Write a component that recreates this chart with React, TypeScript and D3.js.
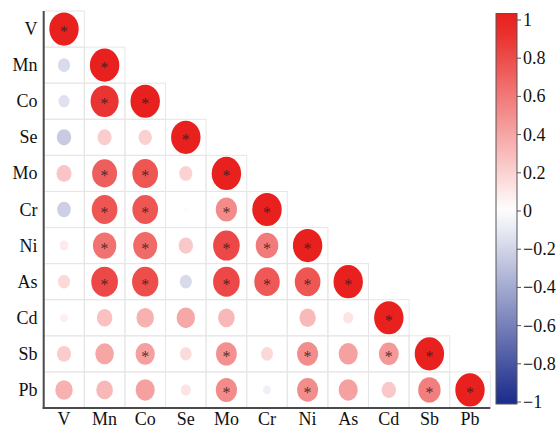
import React from "react";
import * as d3 from "d3";

const vars = ["V", "Mn", "Co", "Se", "Mo", "Cr", "Ni", "As", "Cd", "Sb", "Pb"];

// lower-triangle correlation values (row i, columns 0..i)
const corrV = [1];
const corrMn = [-0.17, 1];
const corrCo = [-0.14, 0.91, 1];
const corrSe = [-0.24, 0.23, 0.21, 1];
const corrMo = [0.26, 0.72, 0.76, 0.2, 1];
const corrCr = [-0.22, 0.76, 0.76, 0.02, 0.52, 1];
const corrNi = [0.09, 0.63, 0.67, 0.24, 0.82, 0.59, 1];
const corrAs = [0.17, 0.82, 0.8, -0.17, 0.82, 0.75, 0.76, 1];
const corrCd = [0.07, 0.28, 0.35, 0.39, 0.32, 0.01, 0.31, 0.12, 1];
const corrSb = [0.23, 0.4, 0.43, 0.16, 0.5, 0.17, 0.51, 0.42, 0.46, 1];
const corrPb = [0.35, 0.32, 0.42, 0.12, 0.52, -0.07, 0.51, 0.42, 0.24, 0.58, 1];
const corr = [corrV, corrMn, corrCo, corrSe, corrMo, corrCr, corrNi, corrAs, corrCd, corrSb, corrPb];

// significance flags (1 = marked with *)
const sigV = [1];
const sigMn = [0, 1];
const sigCo = [0, 1, 1];
const sigSe = [0, 0, 0, 1];
const sigMo = [0, 1, 1, 0, 1];
const sigCr = [0, 1, 1, 0, 1, 1];
const sigNi = [0, 1, 1, 0, 1, 1, 1];
const sigAs = [0, 1, 1, 0, 1, 1, 1, 1];
const sigCd = [0, 0, 0, 0, 0, 0, 0, 0, 1];
const sigSb = [0, 0, 1, 0, 1, 0, 1, 0, 1, 1];
const sigPb = [0, 0, 0, 0, 1, 0, 1, 0, 0, 1, 1];
const sig = [sigV, sigMn, sigCo, sigSe, sigMo, sigCr, sigNi, sigAs, sigCd, sigSb, sigPb];

const legendTicks = [1, 0.8, 0.6, 0.4, 0.2, 0, -0.2, -0.4, -0.6, -0.8, -1];

const FONT = "'Liberation Serif', 'Times New Roman', Times, serif";

export default function App() {
  const x = d3.scaleBand<string>().domain(vars).range([43.7, 490.3]).padding(0);
  const y = d3.scaleBand<string>().domain(vars).range([11, 408]).padding(0);
  const color = d3
    .scaleLinear<string>()
    .domain([-1, 0, 1])
    .range(["#1B2B8A", "#FFFFFF", "#E8201E"])
    .interpolate(d3.interpolateRgb);
  const RX = 14.7;
  const RY = 16.6;

  const cw = x.bandwidth();
  const ch = y.bandwidth();

  const cells: { i: number; j: number; r: number; s: number }[] = [];
  corr.forEach((row, i) => row.forEach((r, j) => cells.push({ i, j, r, s: sig[i][j] })));

  const ly = d3.scaleLinear().domain([-1, 1]).range([402, 20]);
  const barX = 496;
  const barW = 21;
  const barTop = 13.5;
  const barBot = 404;
  const fmt = (v: number) => (v < 0 ? "\u2212" + String(Math.abs(v)) : String(v));

  const stops = d3.range(0, 21).map((k) => {
    const yy = barTop + ((barBot - barTop) * k) / 20;
    const v = Math.max(-1, Math.min(1, ly.invert(yy)));
    return { off: (k / 20) * 100, c: color(v) };
  });

  return (
    <svg
      width={560}
      height={430}
      style={{ position: "absolute", left: 0, top: 0, background: "#fff", fontFamily: FONT }}
    >
      <defs>
        <linearGradient id="cbar" x1="0" y1="0" x2="0" y2="1">
          {stops.map((s, k) => (
            <stop key={k} offset={`${s.off}%`} stopColor={s.c} />
          ))}
        </linearGradient>
      </defs>
      <rect width={560} height={430} fill="#fff" />
      {/* grid */}
      {cells.map((d) => (
        <rect
          key={`g${d.i}-${d.j}`}
          x={x(vars[d.j])!}
          y={y(vars[d.i])!}
          width={cw}
          height={ch}
          fill="none"
          stroke="#e6e6e6"
          strokeWidth={1}
        />
      ))}
      {/* circles */}
      {cells.map((d) => {
        const cx = x(vars[d.j])! + cw / 2;
        const cy = y(vars[d.i])! + ch / 2;
        const k = Math.sqrt(Math.abs(d.r));
        return (
          <g key={`c${d.i}-${d.j}`}>
            <ellipse cx={cx} cy={cy} rx={RX * k} ry={RY * k} fill={color(d.r)} />
            {d.s ? (
              <text
                x={cx}
                y={cy + 8}
                textAnchor="middle"
                fontSize={16}
                fill="#3a1f1f"
                fillOpacity={0.9}
              >
                *
              </text>
            ) : null}
          </g>
        );
      })}
      {/* axes lines */}
      <line x1={43.7} x2={43.7} y1={11} y2={409} stroke="#4a4a4a" strokeWidth={2} />
      <line x1={42.7} x2={490.3} y1={408} y2={408} stroke="#4a4a4a" strokeWidth={2} />
      {/* row labels */}
      {vars.map((v) => (
        <text
          key={`r${v}`}
          x={37.5}
          y={y(v)! + ch / 2 + 6}
          textAnchor="end"
          fontSize={18}
          fill="#111"
        >
          {v}
        </text>
      ))}
      {/* column labels */}
      {vars.map((v) => (
        <text
          key={`cl${v}`}
          x={x(v)! + cw / 2}
          y={425}
          textAnchor="middle"
          fontSize={18}
          fill="#111"
        >
          {v}
        </text>
      ))}
      {/* colorbar */}
      <rect
        x={barX}
        y={barTop}
        width={barW}
        height={barBot - barTop}
        fill="url(#cbar)"
        stroke="#555"
        strokeWidth={1}
      />
      {legendTicks.map((t) => (
        <g key={`t${t}`}>
          <line x1={barX + barW} x2={barX + barW + 4} y1={ly(t)} y2={ly(t)} stroke="#555" strokeWidth={1} />
          <text x={barX + barW + 6} y={ly(t) + 6} fontSize={18} fill="#111">
            {fmt(t)}
          </text>
        </g>
      ))}
    </svg>
  );
}
